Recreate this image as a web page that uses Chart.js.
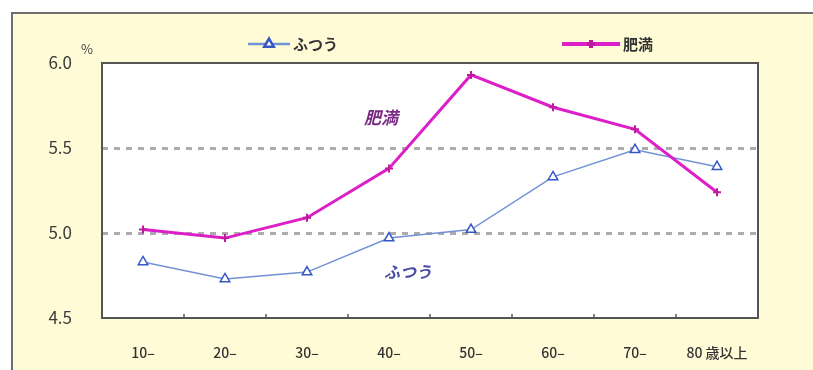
<!DOCTYPE html>
<html lang="ja">
<head>
<meta charset="utf-8">
<script src="https://cdn.jsdelivr.net/npm/chart.js@4/dist/chart.umd.min.js"></script>
<style>
  html, body { margin: 0; padding: 0; background: #fff; overflow: hidden; }
  #wrap { width: 813px; height: 370px; }
  canvas { display: block; }
</style>
</head>
<body>
<div id="wrap"><canvas id="obesityChart" width="813" height="370"></canvas></div>
<script>
// age groups and rates (%)
const ageGroups = ['10–', '20–', '30–', '40–', '50–', '60–', '70–', '80 歳以上'];
const normalRates = [4.83, 4.73, 4.77, 4.97, 5.02, 5.33, 5.49, 5.39];
const obeseRates = [5.02, 4.97, 5.09, 5.38, 5.93, 5.74, 5.61, 5.24];
const yTicks = [4.5, 5.0, 5.5, 6.0];

const JP = '"Noto Sans CJK JP", "Noto Sans", sans-serif';

// frame, plot box, inner ticks, legend and in-plot labels
const decor = {
  id: 'decor',
  beforeDraw(chart) {
    const { ctx, chartArea: a } = chart;
    const w = chart.width, h = chart.height;
    ctx.save();
    ctx.fillStyle = '#fffbd6';
    ctx.fillRect(12, 13, w + 10, h);
    ctx.fillStyle = '#ffffff';
    ctx.fillRect(a.left, a.top, a.right - a.left, a.bottom - a.top);
    ctx.fillStyle = '#6e6e6e';
    ctx.fillRect(11, 12, w + 10, 2);
    ctx.fillRect(11, 12, 2, h);
    ctx.restore();
  },
  afterDraw(chart) {
    const { ctx, chartArea: a, scales } = chart;
    ctx.save();
    ctx.strokeStyle = '#555';
    ctx.lineWidth = 2;
    ctx.strokeRect(a.left, a.top, a.right - a.left, a.bottom - a.top);

    // small ticks between the categories on the bottom axis
    const xs = scales.x;
    ctx.lineWidth = 1.5;
    for (let i = 0; i < ageGroups.length - 1; i++) {
      const px = (xs.getPixelForTick(i) + xs.getPixelForTick(i + 1)) / 2;
      ctx.beginPath();
      ctx.moveTo(px, a.bottom);
      ctx.lineTo(px, a.bottom - 4);
      ctx.stroke();
    }

    // unit mark
    ctx.fillStyle = '#444';
    ctx.font = '13px ' + JP;
    ctx.textAlign = 'left';
    ctx.textBaseline = 'middle';
    ctx.fillText('%', 81, 49);

    // legend
    const items = [
      { ds: chart.data.datasets[0], x0: 248, x1: 290 },
      { ds: chart.data.datasets[1], x0: 562, x1: 620 }
    ];
    items.forEach(it => {
      const y = 44;
      ctx.strokeStyle = it.ds.borderColor;
      ctx.lineWidth = it.ds.borderWidth + 1;
      ctx.beginPath();
      ctx.moveTo(it.x0, y);
      ctx.lineTo(it.x1, y);
      ctx.stroke();
      ctx.strokeStyle = it.ds.pointBorderColor;
      ctx.fillStyle = it.ds.pointBackgroundColor;
      Chart.helpers.drawPoint(ctx, {
        pointStyle: it.ds.pointStyle,
        radius: it.ds.pointRadius,
        rotation: 0,
        borderWidth: it.ds.pointBorderWidth
      }, (it.x0 + it.x1) / 2, y);
      ctx.fillStyle = '#333';
      ctx.font = 'bold 15px ' + JP;
      ctx.textAlign = 'left';
      ctx.textBaseline = 'middle';
      ctx.fillText(it.ds.label, it.x1 + 3, y);
    });

    // series names inside the plot
    ctx.font = 'italic bold 17px ' + JP;
    ctx.textAlign = 'center';
    ctx.fillStyle = '#7a2c85';
    ctx.fillText('肥満', 381, 118);
    ctx.fillStyle = '#4a4ca6';
    ctx.font = 'italic bold 16px ' + JP;
    ctx.fillText('ふつう', 408, 272);
    ctx.restore();
  }
};

new Chart(document.getElementById('obesityChart'), {
  type: 'line',
  data: {
    labels: ageGroups,
    datasets: [
      {
        label: 'ふつう',
        data: normalRates,
        borderColor: '#7092d4',
        borderWidth: 1.5,
        pointStyle: 'triangle',
        pointRadius: 5.5,
        pointBorderColor: '#3557c8',
        pointBackgroundColor: '#ffffff',
        pointBorderWidth: 1.5,
        tension: 0,
        order: 1
      },
      {
        label: '肥満',
        data: obeseRates,
        borderColor: '#dc1fc8',
        borderWidth: 3,
        pointStyle: 'cross',
        pointRadius: 4,
        pointBorderColor: '#c0189f',
        pointBackgroundColor: '#c0189f',
        pointBorderWidth: 2,
        tension: 0,
        order: 0
      }
    ]
  },
  plugins: [decor],
  options: {
    responsive: false,
    animation: false,
    layout: { padding: { left: 12, right: 55, top: 63, bottom: 0 } },
    plugins: {
      legend: { display: false },
      tooltip: { enabled: false }
    },
    scales: {
      x: {
        offset: true,
        border: { display: false },
        grid: { display: false },
        ticks: {
          color: '#333',
          font: { family: JP, size: 14, weight: '500' },
          padding: 18,
          maxRotation: 0,
          autoSkip: false
        },
        afterFit(scale) { scale.height = 52; }
      },
      y: {
        min: 4.5,
        max: 6.0,
        border: { display: false, dash: [6, 6] },
        afterBuildTicks(scale) { scale.ticks = yTicks.map(v => ({ value: v })); },
        grid: {
          drawTicks: false,
          lineWidth: 3,
          color: c => (c.tick && (c.tick.value === 5.0 || c.tick.value === 5.5)) ? '#acacac' : 'rgba(0,0,0,0)'
        },
        ticks: {
          color: '#3a3a3a',
          font: { family: JP, size: 17 },
          padding: 30,
          callback: v => Number(v).toFixed(1)
        },
        afterFit(scale) { scale.width = 90; }
      }
    }
  }
});
</script>
</body>
</html>
